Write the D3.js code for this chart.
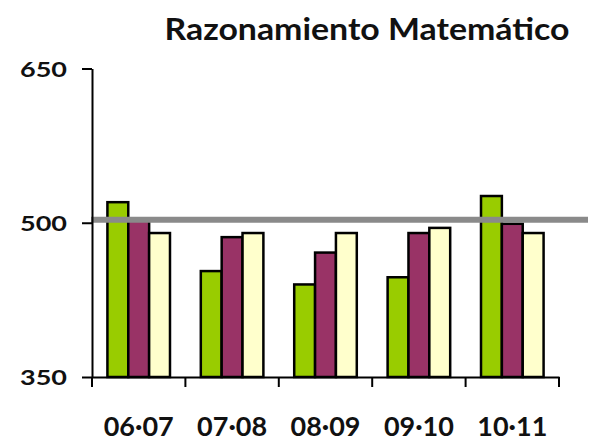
<!DOCTYPE html>
<html>
<head>
<meta charset="utf-8">
<script src="https://cdn.jsdelivr.net/npm/d3@7"></script>
<style>
  body { margin: 0; background: #fff; }
  svg text { font-family: Lato, "Open Sans", sans-serif; font-weight: 700; fill: #111; }
</style>
</head>
<body>
<svg id="chart" width="592" height="446"></svg>
<script>
const years = ["06·07", "07·08", "08·09", "09·10", "10·11"];
const series = ["a", "b", "c"];
const greenVals = [520, 453, 440, 447, 526];
const purpleVals = [503, 486, 471, 490, 499];
const yellowVals = [490, 490, 490, 495, 490];
const refValue = 503;
const yTicks = [350, 500, 650];
const colors = ["#99cc00", "#993366", "#ffffcc"];

const svg = d3.select("#chart");

const y = d3.scaleLinear().domain([350, 650]).range([377, 68.5]);
const x0 = d3.scaleBand().domain(years).range([92, 559]).padding(0);
const bw = x0.bandwidth();
const pad = bw * 0.165;
const x1 = d3.scaleBand().domain(series).range([pad, bw - pad]).padding(0);

const rows = years.map((yr, i) => ({
  year: yr,
  vals: [greenVals[i], purpleVals[i], yellowVals[i]]
}));

// bars
const groups = svg.append("g").selectAll("g")
  .data(rows).join("g")
  .attr("transform", d => `translate(${x0(d.year)},0)`);

groups.selectAll("rect")
  .data(d => d.vals.map((v, j) => ({ key: series[j], v, j })))
  .join("rect")
  .attr("x", d => x1(d.key))
  .attr("width", x1.bandwidth())
  .attr("y", d => y(d.v))
  .attr("height", d => y(350) - y(d.v))
  .attr("fill", d => colors[d.j])
  .attr("stroke", "#000")
  .attr("stroke-width", 2.5);

// reference line
svg.append("line")
  .attr("x1", 91).attr("x2", 588)
  .attr("y1", y(refValue)).attr("y2", y(refValue))
  .attr("stroke", "#8a8a8a")
  .attr("stroke-width", 6);

// y axis
const yAxis = svg.append("g")
  .attr("transform", "translate(92,0)")
  .call(d3.axisLeft(y).tickValues(yTicks).tickSize(10).tickSizeOuter(0).tickPadding(15));
yAxis.select(".domain").attr("stroke", "#000").attr("stroke-width", 2);
yAxis.selectAll(".tick line").attr("stroke", "#000").attr("stroke-width", 2);
yAxis.selectAll(".tick text")
  .attr("font-size", 21)
  .attr("dy", "0.36em")
  .attr("textLength", 47)
  .attr("lengthAdjust", "spacingAndGlyphs")
  .style("font-family", "Lato, sans-serif")
  .style("font-weight", 700)
  .attr("fill", "#111");

// x axis
const xAxis = svg.append("g")
  .attr("transform", `translate(0,${y(350)})`)
  .call(d3.axisBottom(x0).tickSize(0).tickPadding(40).tickSizeOuter(0));
xAxis.select(".domain").attr("stroke", "#000").attr("stroke-width", 2);
xAxis.selectAll(".tick text")
  .attr("font-size", 27)
  .attr("dy", "0")
  .attr("y", 59)
  .attr("textLength", 70)
  .attr("lengthAdjust", "spacingAndGlyphs")
  .style("font-family", "Lato, sans-serif")
  .style("font-weight", 700)
  .attr("fill", "#111");

const bounds = years.map(d => x0(d)).concat([x0(years[years.length - 1]) + bw]);
xAxis.selectAll(".bound")
  .data(bounds).join("line")
  .attr("class", "bound")
  .attr("x1", d => d).attr("x2", d => d)
  .attr("y1", 0).attr("y2", 10)
  .attr("stroke", "#000").attr("stroke-width", 2);

// title
svg.append("text")
  .attr("x", 367)
  .attr("y", 39.5)
  .attr("text-anchor", "middle")
  .attr("font-size", 31)
  .attr("textLength", 405)
  .attr("lengthAdjust", "spacingAndGlyphs")
  .text("Razonamiento Matemático");
</script>
</body>
</html>
